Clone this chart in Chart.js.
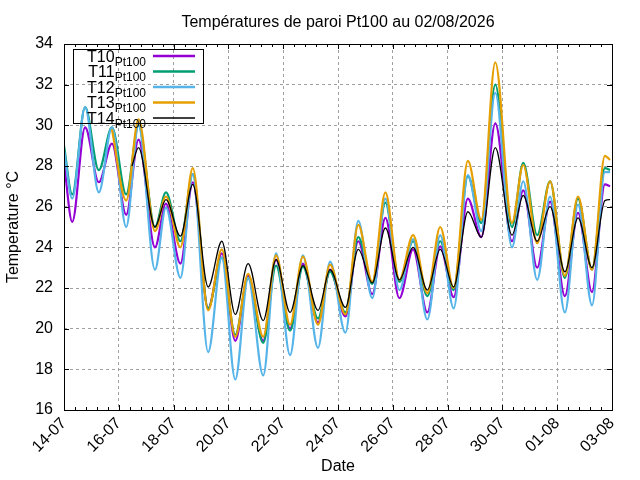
<!DOCTYPE html>
<html><head><meta charset="utf-8">
<script src="https://cdn.jsdelivr.net/npm/chart.js@4"></script>
<style>html,body{margin:0;padding:0;background:#fff}canvas{display:block}</style>
</head><body>
<canvas id="c" width="640" height="480"></canvas>
<script>
const titleText = 'Températures de paroi Pt100 au 02/08/2026';
const xTitle = 'Date';
const yTitle = 'Temperature °C';
const tickLabels = ['14-07','16-07','18-07','20-07','22-07','24-07','26-07','28-07','30-07','01-08','03-08'];
const seriesNames = ['T10','T11','T12','T13','T14'];
const seriesColors = ['#9400d3','#009e73','#56b4e9','#e69f00','#000000'];
// days since 14-07 00:00 (daily minima / maxima)
const days = [0.0,0.3,0.77,1.27,1.75,2.27,2.48,2.72,3.32,3.72,4.25,4.7,5.26,5.76,6.25,6.72,7.27,7.74,8.25,8.72,9.27,9.71,10.27,10.74,11.25,11.73,12.24,12.74,13.26,13.73,14.22,14.74,15.23,15.74,16.35,16.76,17.27,17.74,18.28,18.76,19.27,19.74,19.93];
const t10 = [28.2,25.25,29.9,27.2,29.1,25.6,null,29.3,24.0,26.15,23.2,27.2,21.0,23.7,19.4,22.6,19.4,23.4,20.0,23.2,20.3,22.9,20.6,24.3,21.7,25.45,21.5,23.9,20.8,24.05,21.55,26.4,24.5,30.1,24.3,26.8,23.0,26.25,21.6,25.7,21.8,27.1,27.0];
const t11 = [29.0,26.6,30.9,27.8,29.9,26.6,null,30.0,25.0,26.7,24.3,27.6,21.0,23.5,19.7,22.5,19.3,23.1,19.9,23.05,20.5,22.8,20.8,24.5,22.2,26.2,22.3,24.3,21.6,24.3,21.9,27.5,25.2,32.0,25.0,28.15,24.6,27.25,22.5,26.4,22.9,27.9,27.8];
const t12 = [28.8,26.4,30.9,26.7,29.9,25.0,null,30.0,22.9,25.95,22.5,27.6,18.85,23.5,17.5,22.5,17.7,23.7,18.7,23.6,19.05,23.3,19.8,25.3,21.5,26.4,21.9,24.4,20.45,24.6,21.0,27.55,24.8,31.6,24.0,27.25,22.4,26.5,20.8,26.1,21.15,27.7,27.7];
const t13 = [null,null,null,null,29.8,26.3,null,30.3,24.8,26.5,24.0,27.9,20.9,23.9,19.6,22.7,19.6,23.6,20.2,23.55,20.2,23.15,20.7,25.1,22.3,26.7,22.4,24.6,21.75,25.0,22.0,28.25,25.35,33.1,25.2,28.05,24.2,27.25,22.6,26.5,22.9,28.5,28.3];
const t14 = [null,null,null,null,null,null,28.0,28.9,25.0,26.35,24.55,27.1,22.05,24.3,20.7,23.2,20.4,23.4,20.8,23.1,20.9,22.9,21.05,23.9,22.25,24.95,22.4,24.0,21.9,23.9,22.05,25.75,24.5,28.9,24.6,26.55,24.3,26.0,22.8,25.45,23.0,26.3,26.35];
const seriesValues = [t10,t11,t12,t13,t14];

const FONT = "'Liberation Sans', Arial, sans-serif";

function pts(vals){ return days.map((d,i)=>({x:d,y:vals[i]})).filter(p=>p.y!==null); }

const datasets = seriesNames.map((n,i)=>({
  label:n,
  data:pts(seriesValues[i]),
  borderColor:seriesColors[i],
  backgroundColor:seriesColors[i],
  borderWidth: i===4 ? 1.3 : 2.2,
  pointRadius:0,
  fill:false,
  cubicInterpolationMode:'monotone',
  order: 4-i
}));

const frame = {
  id:'frame',
  afterDraw(chart){
    const {ctx, chartArea:a, scales:{x,y}} = chart;
    ctx.save();
    ctx.strokeStyle='#000'; ctx.lineWidth=1;
    ctx.beginPath();
    for (let i=0;i<=50;i++){
      const v=i*0.4;
      const px=Math.round(x.getPixelForValue(v))+0.5;
      const L = (i%5===0)?5:3;
      ctx.moveTo(px,a.bottom); ctx.lineTo(px,a.bottom-L);
      ctx.moveTo(px,a.top); ctx.lineTo(px,a.top+L);
    }
    for (let v=16; v<=34; v+=2){
      const py=Math.round(y.getPixelForValue(v))+0.5;
      ctx.moveTo(a.left,py); ctx.lineTo(a.left+5,py);
      ctx.moveTo(a.right,py); ctx.lineTo(a.right-5,py);
    }
    ctx.stroke();
    ctx.strokeRect(Math.round(a.left)+0.5, Math.round(a.top)+0.5, Math.round(a.right-a.left), Math.round(a.bottom-a.top));
    // title
    ctx.fillStyle='#000';
    ctx.textAlign='center'; ctx.textBaseline='alphabetic';
    ctx.font='16px '+FONT;
    ctx.fillText(titleText,(a.left+a.right)/2,27);
    // legend (transparent box, as in the reference)
    ctx.strokeStyle='#000'; ctx.lineWidth=1;
    ctx.strokeRect(73.5,49.5,130,74);
    seriesNames.forEach((n,i)=>{
      const y0 = 56 + i*15.5;
      ctx.fillStyle='#000';
      ctx.textAlign='right';
      ctx.font='12px '+FONT;
      const sub='Pt100';
      ctx.fillText(sub,146,y0+9.5);
      const w=ctx.measureText(sub).width;
      ctx.font='16px '+FONT;
      ctx.fillText(n,146-w,y0+5.5);
      ctx.strokeStyle=seriesColors[i];
      ctx.lineWidth = i===4 ? 1.3 : 2.5;
      ctx.beginPath(); ctx.moveTo(153,y0); ctx.lineTo(195,y0); ctx.stroke();
    });
    ctx.restore();
  }
};

new Chart(document.getElementById('c'),{
  type:'line',
  data:{datasets},
  options:{
    responsive:false, animation:false, devicePixelRatio:1,
    layout:{padding:{left:0,right:28,top:44,bottom:0}},
    plugins:{legend:{display:false},title:{display:false},tooltip:{enabled:false}},
    scales:{
      x:{
        type:'linear', min:0, max:20,
        afterFit(s){ s.height=70; },
        ticks:{stepSize:2, autoSkip:false, maxRotation:45, minRotation:45, padding:4, color:'#000',
          font:{family:FONT,size:16},
          callback:(v)=>{ const k=Math.round(v/2); return Math.abs(v-2*k)<1e-6 ? tickLabels[k] : ''; }},
        grid:{color:'#a0a0a0', lineWidth:1, drawTicks:false},
        border:{display:false, dash:[3,3]},
        title:{display:true, text:xTitle, color:'#000', font:{family:FONT,size:16}, padding:{top:0,bottom:4}}
      },
      y:{
        min:16, max:34,
        afterFit(s){ s.width=64; },
        ticks:{stepSize:2, padding:11, color:'#000', font:{family:FONT,size:16}},
        grid:{color:'#a0a0a0', lineWidth:1, drawTicks:false},
        border:{display:false, dash:[3,3]},
        title:{display:true, text:yTitle, color:'#000', font:{family:FONT,size:16}, padding:{top:4,bottom:0}}
      }
    }
  },
  plugins:[frame]
});
</script>
</body></html>
